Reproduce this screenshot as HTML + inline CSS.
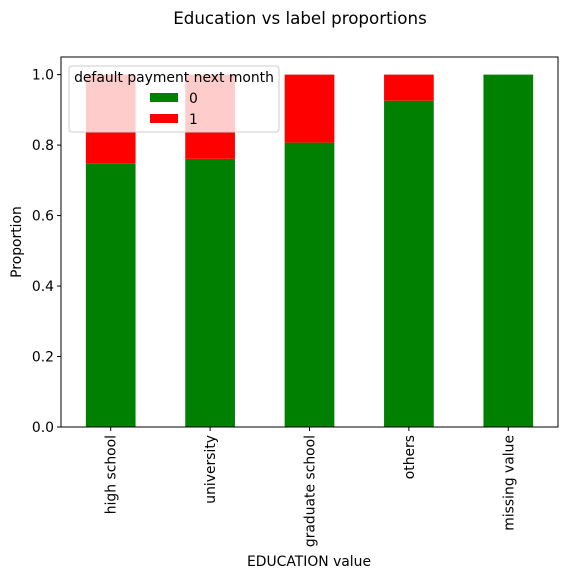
<!DOCTYPE html>
<html><head><meta charset="utf-8"><style>
body{margin:0;background:#fff;}
svg text{font-family:"DejaVu Sans","Liberation Sans",sans-serif;fill:#000;}
</style></head><body>
<svg id="chart" width="567" height="579" xmlns="http://www.w3.org/2000/svg">
<text x="300" y="24" font-size="16.7" text-anchor="middle">Education vs label proportions</text>
<g id="bars"></g>
<g id="axes"></g>
<text x="309" y="566" font-size="13.9" text-anchor="middle">EDUCATION value</text>
<text transform="translate(21,242) rotate(-90)" font-size="13.9" text-anchor="middle">Proportion</text>
<g>
<rect x="69" y="66" width="210" height="66" rx="3" fill="#fff" fill-opacity="0.8" stroke="#ccc"/>
<text x="174" y="82" font-size="13.9" text-anchor="middle">default payment next month</text>
<rect x="150" y="93" width="28" height="9" fill="#008000"/>
<text x="189" y="103" font-size="13.9">0</text>
<rect x="150" y="114" width="28" height="9" fill="#ff0000"/>
<text x="189" y="124" font-size="13.9">1</text>
</g>
</svg>
<script>
const categories = ["high school","university","graduate school","others","missing value"];
const label0 = [0.747, 0.761, 0.807, 0.926, 1.0];
const label1 = [0.253, 0.239, 0.193, 0.074, 0.0];
const yTicks = [0.0, 0.2, 0.4, 0.6, 0.8, 1.0];

const NS = "http://www.w3.org/2000/svg";
const L = 61, R = 558, B = 427, T = 57;
const yMax = 1.05;
const band = (R - L) / categories.length;
const xc = i => L + band * (i + 0.5);
const y = v => B - v / yMax * (B - T);
function mk(tag, attrs, parent){const e=document.createElementNS(NS,tag);for(const k in attrs)e.setAttribute(k,attrs[k]);parent.appendChild(e);return e;}
const bars = document.getElementById('bars');
const axes = document.getElementById('axes');
const bw = band * 0.5;
categories.forEach((c,i)=>{
  const g0 = mk('rect',{x:xc(i)-bw/2,y:y(label0[i]),width:bw,height:B-y(label0[i]),fill:'#008000'},bars);
  
  
  const top = label0[i]+label1[i];
  const g1 = mk('rect',{x:xc(i)-bw/2,y:y(top),width:bw,height:y(label0[i])-y(top),fill:'#ff0000'},bars);
  
  
  const tk = mk('line',{x1:xc(i),x2:xc(i),y1:B,y2:B+4,stroke:'#000'},axes);
  
  
  const t = mk('text',{transform:`translate(${xc(i)+5},${B+8}) rotate(-90)`,'font-size':13.9,'text-anchor':'end'},axes);
  t.textContent = c;
  
  
});
yTicks.forEach(v=>{
  const tk = mk('line',{x1:L-4,x2:L,y1:y(v),y2:y(v),stroke:'#000'},axes);
  
  
  const t = mk('text',{x:L-7,y:y(v)+5,'font-size':13.9,'text-anchor':'end'},axes);
  t.textContent = v.toFixed(1);
  
  
});
const fr = mk('rect',{x:L,y:T,width:R-L,height:B-T,fill:'none',stroke:'#000','stroke-width':1},axes);


</script>
</body></html>
